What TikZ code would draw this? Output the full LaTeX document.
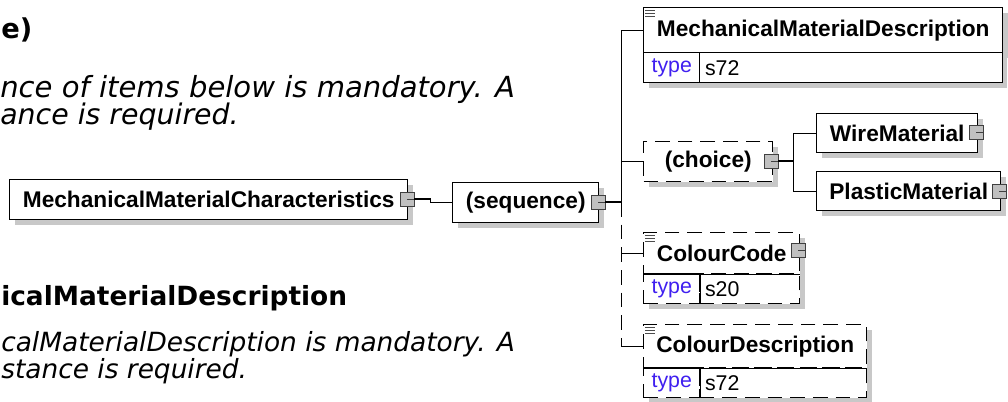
\documentclass[tikz,border=0pt]{standalone}
\usepackage{fontspec}
\usepackage{xcolor}
\usepackage{tikz}
\usetikzlibrary{shadows}
\newfontfamily\xsfont{Liberation Sans}
\newfontfamily\docfont{DejaVu Sans}
\definecolor{xsgray}{HTML}{C0C0C0}
\definecolor{xsshadow}{HTML}{C8C8C8}
\definecolor{xsblue}{HTML}{4020F0}

\tikzset{
  elem/.style={draw=black, line width=1.1pt, fill=white, inner sep=0pt, anchor=north west,
    font=\xsfont\bfseries\fontsize{17}{20}\selectfont,
    drop shadow={shadow xshift=3.75pt, shadow yshift=-3.75pt, fill=xsshadow, opacity=1}},
  optelem/.style={elem, dashed, dash pattern=on 11pt off 6pt},
  keycell/.style={elem, font=\xsfont\fontsize{16}{19}\selectfont, text=xsblue, minimum width=42pt, minimum height=22.5pt},
  valcell/.style={elem, font=\xsfont\fontsize{16}{19}\selectfont, align=left, inner xsep=4pt, minimum height=22.5pt},
  port/.style={draw=black!75, fill=xsgray, line width=0.7pt, minimum size=10.5pt, inner sep=0pt,
    path picture={\draw[black!75, line width=0.7pt] (path picture bounding box.center) -- (path picture bounding box.east);}},
  conn/.style={draw=black, line width=0.9pt},
  note/.style={anchor=base west, inner xsep=0pt, font=\docfont\itshape\fontsize{19.8}{23}\selectfont},
  head/.style={anchor=base west, inner xsep=0pt, font=\docfont\bfseries\fontsize{19.8}{23}\selectfont}
}

\begin{document}
\begin{tikzpicture}[x=0.75pt, y=-0.75pt]
\useasboundingbox (0,0) rectangle (1008,401);
\fill[white] (0,0) rectangle (1008,401);
\clip (0,0) rectangle (1008,401);

% left hand documentation text (cut at the page edge)
\node[head, font=\docfont\bfseries\fontsize{20.5}{24}\selectfont] (headseq) at (1,38) {e)};
\node[note, font=\docfont\itshape\fontsize{21.8}{26}\selectfont] (noteseqa) at (0,97) {nce of items below is mandatory. A};
\node[note, font=\docfont\itshape\fontsize{21.3}{26}\selectfont] (noteseqb) at (0,124) {ance is required.};
\node[head] (headmmd) at (1,305) {icalMaterialDescription};
\node[note] (notemmda) at (1,351) {calMaterialDescription is mandatory. A};
\node[note] (notemmdb) at (1,378) {stance is required.};

% element tree
\node[elem, minimum width=298.5pt, minimum height=30pt] (mmc) at (9,179) {MechanicalMaterialCharacteristics};
\node[elem, minimum width=109.5pt, minimum height=30pt] (seq) at (452,182) {(sequence)};

\node[elem, minimum width=269.25pt, minimum height=33.75pt] (mmd) at (643,7) {MechanicalMaterialDescription};
\node[keycell] (mmdk) at (643,52) {type};
\node[valcell, text width=219pt] (mmdv) at (699,52) {s72};

\node[optelem, minimum width=96.75pt, minimum height=30pt] (choice) at (643,141) {(choice)\hspace{11pt}};
\node[elem, minimum width=120.75pt, minimum height=29.25pt] (wire) at (816,113) {WireMaterial\hspace{10pt}};
\node[elem, minimum width=138pt, minimum height=29.25pt] (plastic) at (816,171) {PlasticMaterial\hspace{8pt}};

\node[optelem, minimum width=117pt, minimum height=30.75pt] (cc) at (643,232) {ColourCode\hspace{4pt}};
\node[optelem, keycell, dash pattern=on 11pt off 6pt] (cck) at (643,273) {type};
\node[optelem, valcell, text width=67pt] (ccv) at (699,273) {s20};
\draw[line width=1.1pt] (cc.south west) -- (cc.south east);
\draw[line width=1.1pt] (cck.north east) -- (cck.south east);

\node[optelem, minimum width=167.25pt, minimum height=32.25pt] (cd) at (643,324) {ColourDescription};
\node[optelem, keycell, dash pattern=on 11pt off 6pt] (cdk) at (643,367) {type};
\node[optelem, valcell, text width=117.25pt] (cdv) at (699,367) {s72};
\draw[line width=1.1pt] (cd.south west) -- (cd.south east);
\draw[line width=1.1pt] (cdk.north east) -- (cdk.south east);

% documentation marks
\foreach \n in {mmd, cc, cd}
  \foreach \d in {3,6,9}
    \draw[black!70, line width=0.6pt] ([shift={(2,\d)}]\n.north west) -- ++(10,0);

% ports
\node[port] (mmcp) at (407,199) {};
\node[port] (seqp) at (598,202) {};
\node[port] (chp) at (771,161) {};
\node[port] (wirep) at (976,132) {};
\node[port] (plap) at (999,191) {};
\node[port] (ccp) at (798,250) {};

% connectors
\draw[conn] (mmcp.east) -- ++(16,0) |- (seq.west);
\draw[conn] (seqp.east) -- ++(16,0) coordinate (trunk);
\draw[conn] (trunk) -- (trunk |- mmd.west) -- (mmd.west);
\draw[conn] (trunk |- choice.west) -- (choice.west);
\draw[conn, dashed, dash pattern=on 11pt off 6pt] (trunk) -- (trunk |- cd.west);
\draw[conn] (trunk |- cc.west) -- (cc.west);
\draw[conn] (trunk |- cd.west) -- (cd.west);
\draw[conn] (chp.east) -- ++(15,0) coordinate (fork);
\draw[conn] (fork) |- (wire.west);
\draw[conn] (fork) |- (plastic.west);
\end{tikzpicture}
\end{document}
